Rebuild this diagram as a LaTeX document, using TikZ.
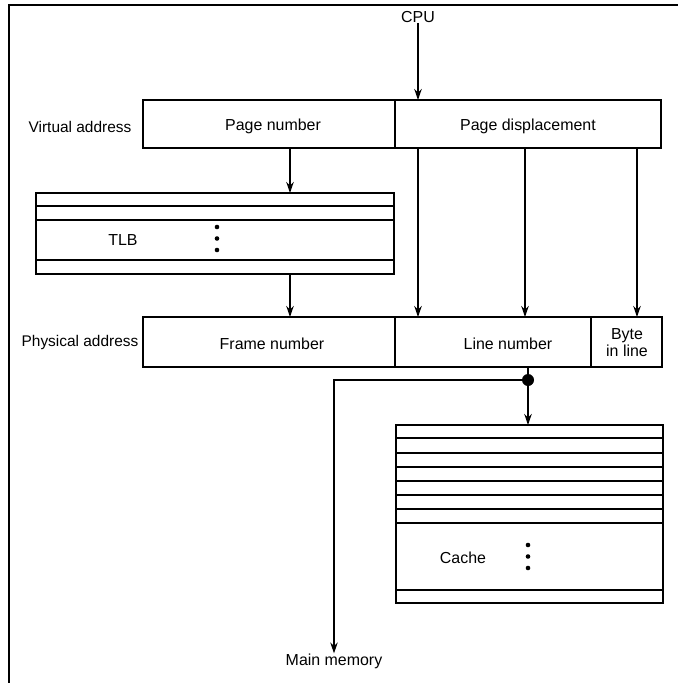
\documentclass[tikz,border=0pt]{standalone}
\usepackage{fontspec}
\setmainfont{Liberation Sans}
\usetikzlibrary{arrows.meta}
\newcommand\lab{\fontsize{16}{17.5}\selectfont}
\newcommand\sidelab{\fontsize{15.5}{17}\selectfont}
\tikzset{
  box/.style={draw, line width=1.1bp, inner sep=0pt, outer sep=0pt},
  arr/.style={-{Stealth[length=11bp,width=7.5bp]}, line width=1.2bp},
  ln/.style={line width=1.1bp},
  lbl/.style={font=\lab, inner sep=0pt},
  side/.style={font=\sidelab, inner sep=0pt},
  jdot/.style={circle, fill, inner sep=0pt, minimum size=12bp}
}
\begin{document}
\begin{tikzpicture}[x=1bp,y=-1bp]
\useasboundingbox (0,0) rectangle (678,683);
% frame
\draw[line width=1.3bp] (9,683) -- (9,5) -- (678,5);

% labels
\node[lbl] (cpu) at (418,17) {CPU};
\node[side] (va) at (80,127) {Virtual address};
\node[side] (pa) at (80,343) {Physical address};

% virtual address
\node[box, minimum width=252bp, minimum height=48bp] (pn) at (269,124) {};
\node[box, minimum width=266bp, minimum height=48bp] (pd) at (528,124) {};
\node[lbl] at (273,126) {Page number};
\node[lbl] at (528,126) {Page displacement};

% TLB
\node[box, minimum width=358bp, minimum height=81bp] (tlb) at (215,233.5) {};
\draw[ln] (36,206) -- (394,206);
\draw[ln] (36,220) -- (394,220);
\draw[ln] (36,260) -- (394,260);
\node[lbl] at (123,240) {TLB};
\foreach \yy in {227,238.5,250} \fill (217,\yy) circle (2.3bp);

% physical address
\node[box, minimum width=252bp, minimum height=50bp] (fn) at (269,342) {};
\node[box, minimum width=196bp, minimum height=50bp] (lnb) at (493,342) {};
\node[box, minimum width=71bp, minimum height=50bp] (bl) at (626.5,342) {};
\node[lbl] at (272,344) {Frame number};
\node[lbl] at (508,344) {Line number};
\node[lbl, align=center, font=\fontsize{16}{17}\selectfont] at (627,343) {Byte\\in line};

% cache
\node[box, minimum width=267bp, minimum height=178bp] (cache) at (529.5,514) {};
\foreach \yy in {438,453,467,481,495,509,523,590}
  \draw[ln] (396,\yy) -- (663,\yy);
\node[lbl] at (463,558) {Cache};
\foreach \yy in {545,556.5,568} \fill (528,\yy) circle (2.3bp);

% connector columns
\coordinate (c1) at (290,0);
\coordinate (c2) at (418,0);
\coordinate (c3) at (525,0);
\coordinate (c4) at (637,0);

% arrows
\draw[arr] (cpu.south) -- (cpu |- pd.north);
\draw[arr] (pn.south -| c1) -- (tlb.north -| c1);
\draw[arr] (tlb.south -| c1) -- (fn.north -| c1);
\draw[arr] (pd.south -| c2) -- (lnb.north -| c2);
\draw[arr] (pd.south -| c3) -- (lnb.north -| c3);
\draw[arr] (pd.south -| c4) -- (bl.north -| c4);

% junction
\node[jdot] (j) at (528,380) {};
\node[lbl] (mm) at (334,661) {Main memory};
\draw[ln] (lnb.south -| j) -- (j.center);
\draw[arr] (j.center) -- (j.center |- cache.north);
\draw[arr] (j.center) -- (j.center -| mm) -- (mm.north);
\end{tikzpicture}
\end{document}
